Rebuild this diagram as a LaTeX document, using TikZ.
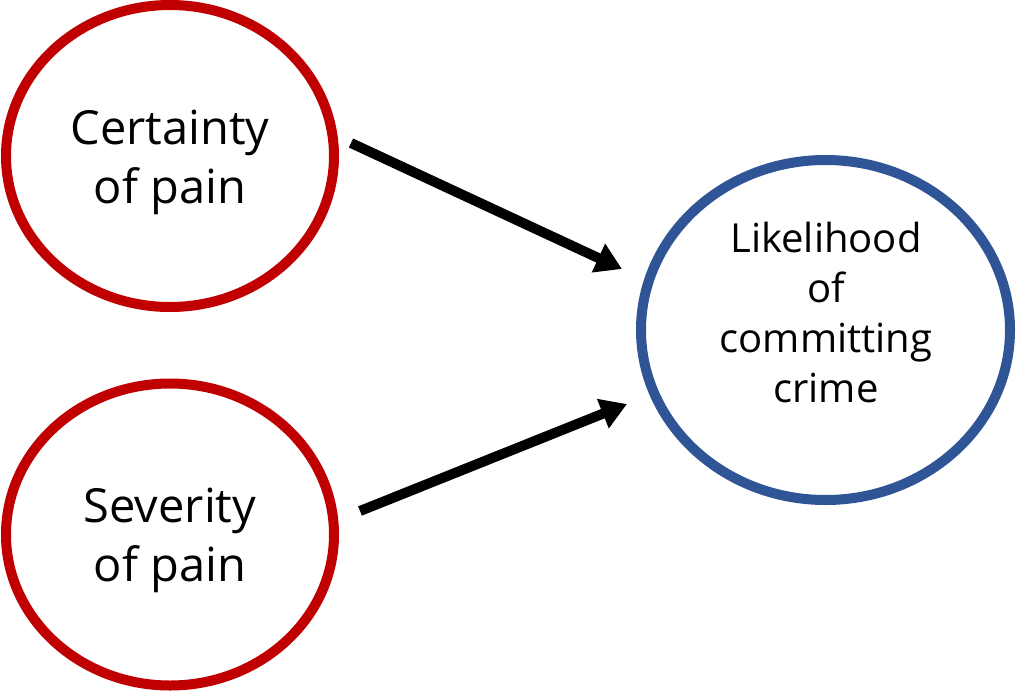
\documentclass[tikz,border=0pt]{standalone}
\usepackage{fontspec}
\setmainfont{Open Sans}
\usetikzlibrary{arrows.meta,shapes.geometric}
\definecolor{redc}{HTML}{C00000}
\definecolor{bluec}{HTML}{2F5597}
\begin{document}
\begin{tikzpicture}[x=1pt,y=-1pt,
  causebox/.style={draw=redc,line width=10pt,ellipse,minimum width=328pt,minimum height=302pt,inner sep=0pt},
  effectbox/.style={draw=bluec,line width=10pt,ellipse,minimum width=369pt,minimum height=340pt,inner sep=0pt},
  causetext/.style={align=center,inner sep=0pt,font=\fontsize{47}{59}\selectfont},
  effecttext/.style={align=center,inner sep=0pt,font=\fontsize{40}{50}\selectfont},
  arr/.style={line width=10pt,-{Triangle[length=26pt,width=30pt]}}]
\useasboundingbox (0,0) rectangle (1017,691);
\node[causebox] (cert) at (170,156) {};
\node[causetext] (certt) at (170,162) {Certainty\\of pain};
\node[causebox] (sev) at (170,534.5) {};
\node[causetext] (sevt) at (170,540) {Severity\\of pain};
\node[effectbox] (like) at (825.5,330) {};
\node[effecttext] (liket) at (826,312) {Likelihood\\of\\committing\\crime};
\coordinate (s1) at (351,143);
\coordinate (e1) at (622,269);
\coordinate (s2) at (360,511);
\coordinate (e2) at (627,404);
\draw[arr] (s1) -- (e1);
\draw[arr] (s2) -- (e2);
\end{tikzpicture}
\end{document}
